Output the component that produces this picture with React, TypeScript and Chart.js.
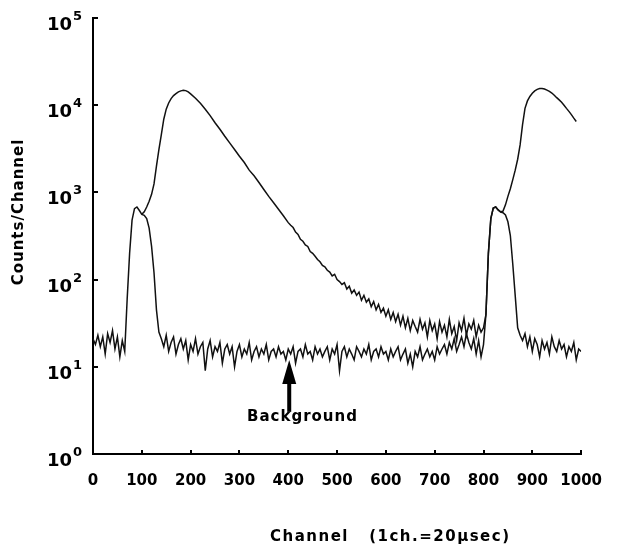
import React, { useEffect, useRef } from "react";
import { Chart, registerables } from "chart.js";

Chart.register(...registerables);

// ---------- data ----------
// background spectrum: one value every 5 channels, channel 0 .. 1000
const BG_STEP = 5;
const bgCounts = [
  21, 18, 23, 17, 22, 14, 24, 19, 26, 16, 22, 13, 20, 15,
  60, 200, 480, 650, 680, 620, 560, 545, 500, 390, 240, 120, 45, 25,
  21, 17, 23, 15, 19, 22, 14, 18, 21, 16, 20, 12, 18, 15, 21, 14, 17, 19, 9, 16,
  20, 13, 17, 15, 19, 11, 16, 18, 14, 17, 10, 15, 18, 13, 16, 14, 19, 12, 15, 17,
  13, 16, 14, 18, 12, 15, 16, 13, 17, 14, 15, 12, 16, 14, 17, 11, 15, 16, 13, 18,
  14, 15, 12, 17, 14, 16, 13, 15, 17, 12, 16, 14, 18, 9, 15, 17, 13, 16, 14, 12,
  17, 15, 13, 16, 14, 18, 12, 15, 16, 13, 17, 14, 15, 12, 16, 13, 15, 17, 12, 14,
  16, 11, 14, 10, 15, 13, 17, 12, 14, 16, 13, 15, 12, 17, 14, 16, 18, 14, 19, 16,
  21, 15, 18, 22, 17, 24, 19, 16, 21, 14, 20, 13, 18,
  40, 200, 500, 660, 680, 630, 595, 585, 550, 460, 320, 150, 65, 28, 23,
  20, 24, 17, 22, 15, 21, 18, 13, 20, 16, 19, 14, 22, 17, 15, 20, 16, 18, 13, 17,
  15, 19, 12, 16, 15,
];

// signal spectrum (run with source)
const sigChannels = [
  100, 105, 110, 115, 120, 125, 130, 135, 140, 145, 150, 155, 160, 165, 170, 175, 180, 185, 190, 195, 200,
  210, 220, 230, 240, 250, 260, 270, 280, 290, 300, 310, 320, 330, 340, 350, 360, 370, 380, 390, 400,
  405, 410, 415, 420, 425, 430, 435, 440, 445, 450, 455, 460, 465, 470, 475, 480, 485, 490, 495, 500,
  505, 510, 515, 520, 525, 530, 535, 540, 545, 550, 555, 560, 565, 570, 575, 580, 585, 590, 595, 600,
  605, 610, 615, 620, 625, 630, 635, 640, 645, 650, 655, 660, 665, 670, 675, 680, 685, 690, 695, 700,
  705, 710, 715, 720, 725, 730, 735, 740, 745, 750, 755, 760, 765, 770, 775, 780, 785, 790, 795, 800,
  805, 810, 815, 820, 825, 830, 835, 840, 845, 850, 855, 860, 865, 870, 875, 880, 885, 890, 895, 900,
  905, 910, 915, 920, 925, 930, 935, 940, 945, 950, 955, 960, 965, 970, 975, 980, 985, 990,
];
const sigCounts = [
  560, 600, 680, 790, 950, 1250, 2000, 3100, 4600, 6900, 9000, 10600, 11900, 12900, 13600, 14200, 14600, 14800, 14700, 14200, 13500,
  12000, 10500, 9000, 7600, 6300, 5300, 4400, 3700, 3100, 2600, 2200, 1800, 1550, 1300, 1080, 900, 760, 640, 540, 450,
  420, 395, 350, 330, 290, 275, 250, 240, 210, 200, 185, 170, 160, 145, 140, 128, 122, 110, 115, 100,
  95, 88, 92, 78, 84, 70, 76, 66, 72, 58, 66, 55, 60, 49, 56, 45, 52, 42, 47, 38,
  45, 35, 42, 33, 40, 30, 38, 28, 36, 26, 34, 29, 25, 35, 27, 32, 22, 34, 26, 31,
  21, 33, 25, 30, 22, 35, 24, 29, 20, 32, 26, 36, 23, 31, 27, 34, 22, 30, 25, 28,
  40, 200, 500, 660, 680, 630, 600, 610, 720, 900, 1100, 1400, 1800, 2400, 3500, 6000, 9200, 11200, 12600, 13700,
  14600, 15200, 15500, 15500, 15300, 14900, 14400, 13800, 13000, 12200, 11500, 10800, 10000, 9200, 8500, 7800, 7100, 6500,
];

const yExponents = [0, 1, 2, 3, 4, 5];
const X_MIN = 0;
const X_MAX = 1000;
const X_STEP = 100;
const ARROW_CHANNEL = 402;
const ARROW_TIP_COUNT = 12;

const FONT = "'DejaVu Sans', 'Liberation Sans', Arial, sans-serif";

const decorPlugin = {
  id: "decor",
  afterDraw(chart: any) {
    const ctx = chart.ctx;
    const xs = chart.scales.x;
    const ys = chart.scales.y;
    const area = chart.chartArea;
    ctx.save();
    ctx.strokeStyle = "#000";
    ctx.fillStyle = "#000";
    ctx.lineWidth = 2;
    // inward tick marks
    ctx.beginPath();
    for (const e of yExponents) {
      const y = Math.round(ys.getPixelForValue(Math.pow(10, e)));
      ctx.moveTo(area.left, y);
      ctx.lineTo(area.left + 5, y);
    }
    for (let v = X_MIN; v <= X_MAX; v += X_STEP) {
      const x = Math.round(xs.getPixelForValue(v));
      ctx.moveTo(x, area.bottom);
      ctx.lineTo(x, area.bottom - 4);
    }
    ctx.stroke();

    // y tick labels: 10 with raised exponent
    ctx.textBaseline = "alphabetic";
    for (const e of yExponents) {
      const y = ys.getPixelForValue(Math.pow(10, e));
      ctx.font = `bold 18px ${FONT}`;
      ctx.textAlign = "right";
      ctx.fillText("10", 72, y + 12);
      ctx.font = `bold 13px ${FONT}`;
      ctx.textAlign = "left";
      ctx.fillText(String(e), 73, y + 2);
    }

    // y title
    ctx.font = `bold 15px ${FONT}`;
    (ctx as any).letterSpacing = "1px";
    ctx.textAlign = "center";
    ctx.textBaseline = "middle";
    ctx.save();
    ctx.translate(19, 212);
    ctx.rotate(-Math.PI / 2);
    ctx.fillText("Counts/Channel", 0, 0);
    ctx.restore();

    // x title
    ctx.font = `bold 15px ${FONT}`;
    (ctx as any).letterSpacing = "1.5px";
    ctx.textAlign = "left";
    ctx.textBaseline = "alphabetic";
    ctx.fillText("Channel   (1ch.=20μsec)", 270, 541);

    // Background annotation
    const ax = xs.getPixelForValue(ARROW_CHANNEL);
    const tipY = ys.getPixelForValue(ARROW_TIP_COUNT);
    ctx.beginPath();
    ctx.moveTo(ax, tipY);
    ctx.lineTo(ax - 7, tipY + 24);
    ctx.lineTo(ax + 7, tipY + 24);
    ctx.closePath();
    ctx.fill();
    ctx.fillRect(ax - 2, tipY + 22, 4, 30);
    ctx.font = `bold 15px ${FONT}`;
    (ctx as any).letterSpacing = "1px";
    ctx.textAlign = "left";
    ctx.fillText("Background", 247, 421);
    ctx.restore();
  },
};

export default function App() {
  const ref = useRef<HTMLCanvasElement | null>(null);

  useEffect(() => {
    if (!ref.current) return;
    const bgData = bgCounts.map((c, i) => ({ x: i * BG_STEP, y: c }));
    const sigData = sigChannels.map((ch, i) => ({ x: ch, y: sigCounts[i] }));
    const chart = new Chart(ref.current, {
      type: "line",
      data: {
        datasets: [
          {
            label: "Background",
            data: bgData,
            borderColor: "#111",
            borderWidth: 1.5,
            pointRadius: 0,
            tension: 0,
            fill: false,
          },
          {
            label: "Signal",
            data: sigData,
            borderColor: "#111",
            borderWidth: 1.5,
            pointRadius: 0,
            tension: 0,
            fill: false,
          },
        ],
      },
      options: {
        animation: false,
        responsive: false,
        maintainAspectRatio: false,
        events: [],
        layout: { padding: { left: 0, top: 18, right: 27, bottom: 0 } },
        plugins: {
          legend: { display: false },
          tooltip: { enabled: false },
          title: { display: false },
        },
        scales: {
          x: {
            type: "linear",
            position: "bottom",
            min: X_MIN,
            max: X_MAX,
            afterFit: (s: any) => {
              s.height = 91;
            },
            grid: { display: false, drawTicks: false },
            border: { display: true, color: "#000", width: 2 },
            ticks: {
              stepSize: X_STEP,
              autoSkip: false,
              maxRotation: 0,
              padding: 18,
              color: "#000",
              font: { family: FONT, size: 15, weight: "bold" },
              callback: (v: any) => String(v),
            },
          },
          y: {
            type: "logarithmic",
            position: "left",
            min: 1,
            max: 100000,
            afterFit: (s: any) => {
              s.width = 93;
            },
            afterBuildTicks: (s: any) => {
              s.ticks = yExponents.map((e) => ({ value: Math.pow(10, e) }));
            },
            grid: { display: false, drawTicks: false },
            border: { display: true, color: "#000", width: 2 },
            ticks: { display: false },
          },
        },
      } as any,
      plugins: [decorPlugin],
    });
    return () => chart.destroy();
  }, []);

  return (
    <div style={{ position: "absolute", left: 0, top: 0, width: 620, height: 545, background: "#fff" }}>
      <canvas ref={ref} width={620} height={545} />
    </div>
  );
}
